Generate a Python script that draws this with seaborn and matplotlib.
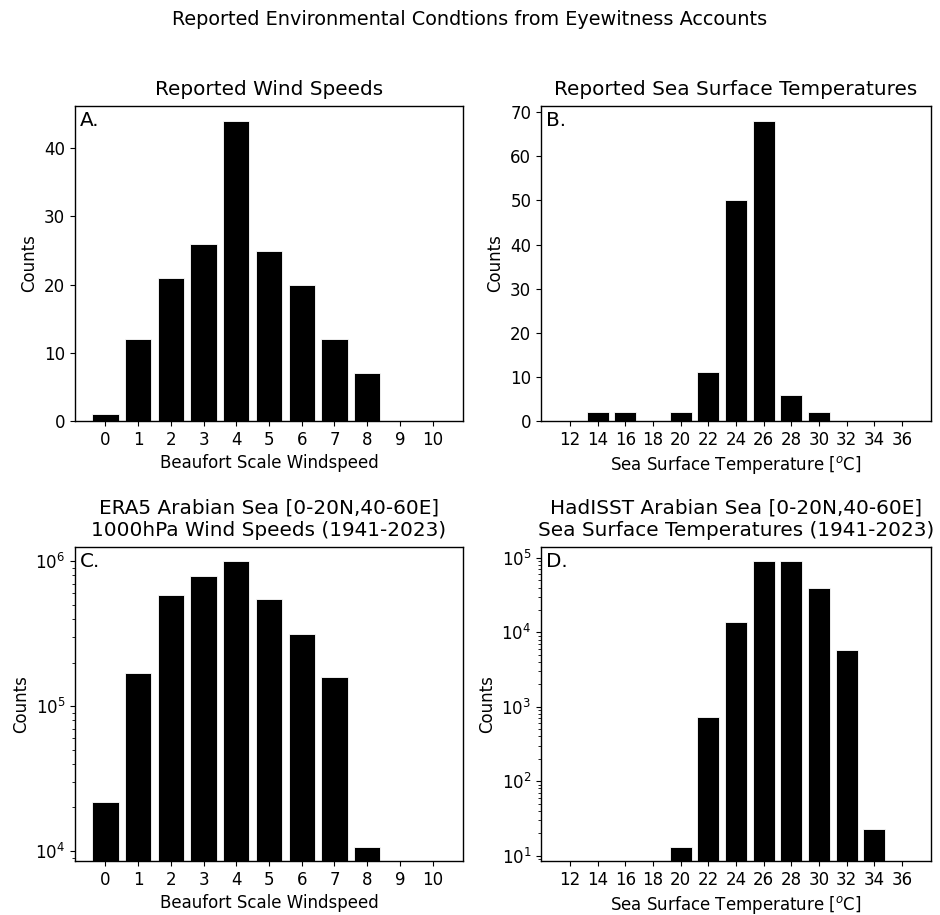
import matplotlib
matplotlib.use("Agg")
import matplotlib.pyplot as plt
import seaborn as sns
import numpy as np
import pandas as pd

# ---- data ----
beaufort = [0, 1, 2, 3, 4, 5, 6, 7, 8, 9, 10]
reported_wind = [1, 12, 21, 26, 44, 25, 20, 12, 7, 0, 0]

sst_bins = [12, 14, 16, 18, 20, 22, 24, 26, 28, 30, 32, 34, 36]
reported_sst = [0, 2, 2, 0, 2, 11, 50, 68, 6, 2, 0, 0, 0]

era5_wind = [2.19e4, 1.70e5, 5.89e5, 7.92e5, 1.00e6, 5.50e5, 3.17e5, 1.58e5, 1.06e4, 0, 0]
hadisst_sst = [0, 0, 0, 0, 13, 721, 1.36e4, 8.95e4, 8.95e4, 3.88e4, 5.82e3, 22.6, 0]

beaufort_ticks = beaufort
sst_ticks = sst_bins

plt.rcParams.update({
    "font.family": ["DejaVu Sans"],
    "font.size": 12,
    "xtick.labelsize": 12,
    "ytick.labelsize": 12,
    "axes.labelsize": 12,
})

fig = plt.figure(figsize=(9.4, 9.15), dpi=100)

W, H = 940.0, 915.0
def box(l, r, t, b):
    return [l / W, 1 - b / H, (r - l) / W, (b - t) / H]

axA = fig.add_axes(box(75, 463, 106, 421))
axB = fig.add_axes(box(541, 931, 106, 421))
axC = fig.add_axes(box(75, 463, 547, 861))
axD = fig.add_axes(box(541, 931, 547, 861))

def draw(ax, xs, ys, log=False):
    df = pd.DataFrame({"x": xs, "y": ys})
    df = df[df["y"] > 0]
    if log:
        ax.set_yscale("log")
    sns.barplot(data=df, x="x", y="y", native_scale=True, color="black",
                edgecolor="white", linewidth=0.6, errorbar=None, ax=ax,
                saturation=1)

draw(axA, beaufort, reported_wind)
draw(axB, sst_bins, reported_sst)
draw(axC, beaufort, era5_wind, log=True)
draw(axD, sst_bins, hadisst_sst, log=True)

for ax in (axA, axC):
    ax.set_xticks(beaufort_ticks)
    ax.set_xticklabels([str(v) for v in beaufort_ticks])
    ax.set_xlim(-0.93, 10.93)
    ax.set_xlabel("Beaufort Scale Windspeed")
for ax in (axB, axD):
    ax.set_xticks(sst_ticks)
    ax.set_xticklabels([str(v) for v in sst_ticks])
    ax.set_xlim(9.9, 38.1)
    ax.set_xlabel("Sea Surface Temperature [$^o$C]")
for ax in (axA, axB, axC, axD):
    ax.set_ylabel("Counts")
    for s in ax.spines.values():
        s.set_visible(True)
        s.set_color("black")
        s.set_linewidth(1.0)

axA.set_ylim(0, 46.2)
axB.set_ylim(0, 71.4)
axC.set_ylim(8.53e3, 1.256e6)
axD.set_ylim(8.5, 1.4e5)

tfs = 14.4
axA.set_title("Reported Wind Speeds", fontsize=tfs, pad=8)
axB.set_title("Reported Sea Surface Temperatures", fontsize=tfs, pad=8)
axC.set_title("ERA5 Arabian Sea [0-20N,40-60E]\n1000hPa Wind Speeds (1941-2023)", fontsize=tfs, pad=8)
axD.set_title("HadISST Arabian Sea [0-20N,40-60E]\nSea Surface Temperatures (1941-2023)", fontsize=tfs, pad=8)

for ax, lab in zip((axA, axB, axC, axD), ("A.", "B.", "C.", "D.")):
    ax.text(0.012, 0.985, lab, transform=ax.transAxes, ha="left", va="top", fontsize=14.4)

fig.suptitle("Reported Environmental Condtions from Eyewitness Accounts", y=0.9886, fontsize=13.9)

fig.savefig("out.png", dpi=100)
